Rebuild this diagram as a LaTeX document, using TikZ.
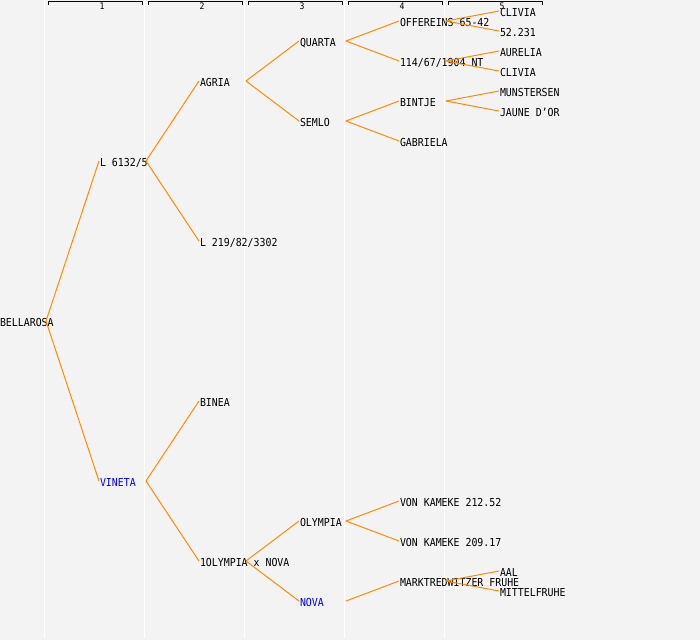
\documentclass[tikz,border=0pt]{standalone}
\usepackage{fontspec}
\newfontfamily\tfont{DejaVu Sans Mono}[FakeStretch=0.9]
\definecolor{bg}{RGB}{243,243,243}
\definecolor{edge}{RGB}{255,140,0}
\definecolor{bluelbl}{RGB}{0,0,255}
% \tn[colour]{name}{x}{y}{text}
\newcommand\tn[5][black]{%
  \node[lab,text=#1,anchor=base west] (#2) at (#3,#4+5) {#5};
  \coordinate (#2-i) at (#3-1,#4);
  \coordinate (#2-o) at (#3+46,#4);
}
\begin{document}
\begin{tikzpicture}[x=1pt,y=-1pt,
  lab/.style={font=\tfont\fontsize{11}{11}\selectfont, inner sep=0pt, outer sep=0pt},
  num/.style={font=\tfont\fontsize{9}{9}\selectfont, inner sep=0pt, anchor=base},
  link/.style={draw=edge, line width=1pt},
  colline/.style={draw=white, line width=1.3pt},
  brk/.style={draw=black, line width=1pt}]
\fill[bg] (0,0) rectangle (700,640);
\useasboundingbox (0,0) rectangle (700,640);
\foreach \x in {44.5,144.5,...,444.5} \draw[colline] (\x,0) -- (\x,638);
\foreach \k in {1,...,5}{
  \draw[brk] (100*\k-52,5) -- (100*\k-52,1.5) -- (100*\k+42,1.5) -- (100*\k+42,5);
  \node[num] (h\k) at (100*\k+2,9.5) {\k};
}
% level 0
\tn{bellarosa}{0}{321}{BELLAROSA}
% level 1
\tn{l6132}{100}{161}{L 6132/5}
\tn[bluelbl]{vineta}{100}{481}{VINETA}
% level 2
\tn{agria}{200}{81}{AGRIA}
\tn{l219}{200}{241}{L 219/82/3302}
\tn{binea}{200}{401}{BINEA}
\tn{olynova}{200}{561}{1OLYMPIA x NOVA}
% level 3
\tn{quarta}{300}{41}{QUARTA}
\tn{semlo}{300}{121}{SEMLO}
\tn{olympia}{300}{521}{OLYMPIA}
\tn[bluelbl]{nova}{300}{601}{NOVA}
% level 4
\tn{offereins}{400}{21}{OFFEREINS 65-42}
\tn{n114}{400}{61}{114/67/1904 NT}
\tn{bintje}{400}{101}{BINTJE}
\tn{gabriela}{400}{141}{GABRIELA}
\tn{vk212}{400}{501}{VON KAMEKE 212.52}
\tn{vk209}{400}{541}{VON KAMEKE 209.17}
\tn{markt}{400}{581}{MARKTREDWITZER FRUHE}
% level 5
\tn{clivia1}{500}{11}{CLIVIA}
\tn{n52231}{500}{31}{52.231}
\tn{aurelia}{500}{51}{AURELIA}
\tn{clivia2}{500}{71}{CLIVIA}
\tn{munster}{500}{91}{MUNSTERSEN}
\tn{jaune}{500}{111}{JAUNE D’OR}
\tn{aal}{500}{571}{AAL}
\tn{mittel}{500}{591}{MITTELFRUHE}
% connectors
\foreach \p/\c in {bellarosa/l6132, bellarosa/vineta,
  l6132/agria, l6132/l219, vineta/binea, vineta/olynova,
  agria/quarta, agria/semlo, olynova/olympia, olynova/nova,
  quarta/offereins, quarta/n114, semlo/bintje, semlo/gabriela,
  olympia/vk212, olympia/vk209, nova/markt,
  offereins/clivia1, offereins/n52231, n114/aurelia, n114/clivia2,
  bintje/munster, bintje/jaune, markt/aal, markt/mittel}
  \draw[link] (\p-o) -- (\c-i);
\end{tikzpicture}
\end{document}
